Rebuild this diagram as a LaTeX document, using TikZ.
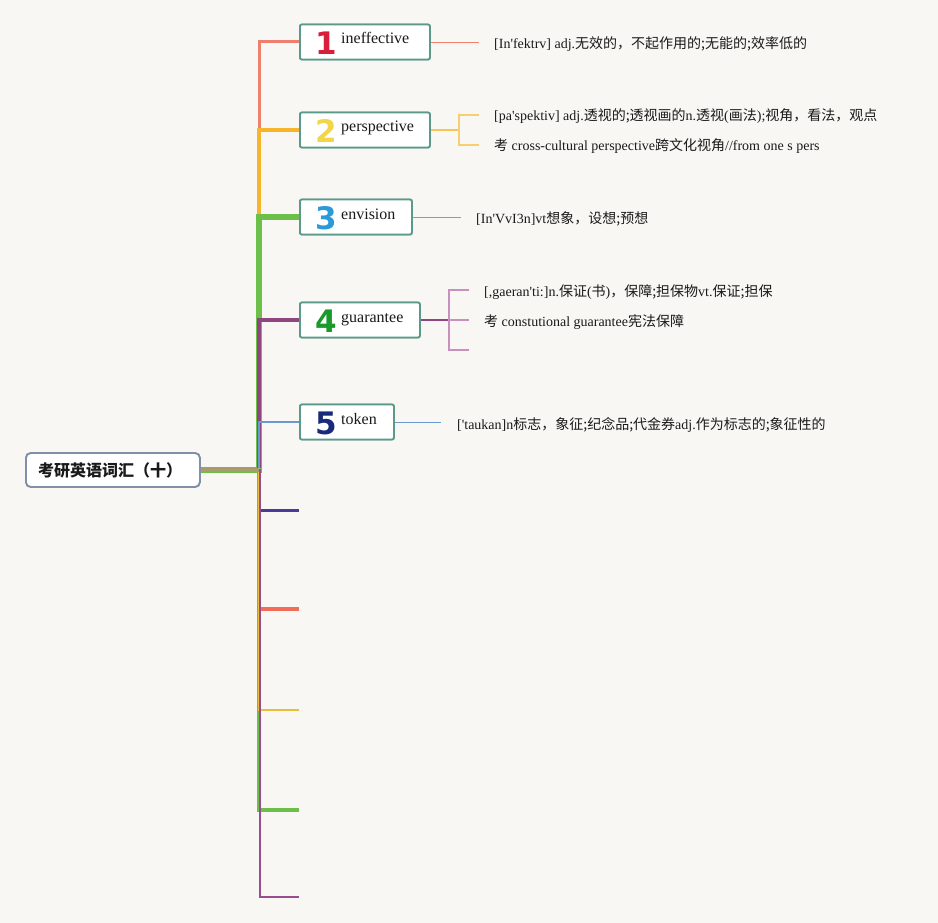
\documentclass[tikz,border=0pt]{standalone}
\usepackage{fontspec}
\setmainfont{Liberation Serif}[Ligatures=TeXOff]
\newfontfamily\cjk{Noto Sans CJK SC}
\newfontfamily\numfont{DejaVu Sans}
\newcommand{\zh}[1]{{\cjk #1}}
\definecolor{bgc}{HTML}{F8F7F4}
\definecolor{cA}{HTML}{F0806E}
\definecolor{cB}{HTML}{F7B52A}
\definecolor{cC}{HTML}{6CC04A}
\definecolor{cD}{HTML}{8E4580}
\definecolor{cE}{HTML}{6A9AD0}
\definecolor{cF}{HTML}{4B3A98}
\definecolor{cG}{HTML}{F26C5A}
\definecolor{cH}{HTML}{E8BE3A}
\definecolor{cI}{HTML}{6CC04A}
\definecolor{cJ}{HTML}{9A4C90}
\definecolor{cBl}{HTML}{F7CF70}
\definecolor{cDl}{HTML}{C890BE}
\definecolor{cRoot}{HTML}{A89C6E}
\definecolor{boxc}{HTML}{5B9A8B}
\definecolor{rootc}{HTML}{8090A8}
\definecolor{nA}{HTML}{D81E3A}
\definecolor{nB}{HTML}{F3D54A}
\definecolor{nC}{HTML}{2A9AD8}
\definecolor{nD}{HTML}{1A9A2A}
\definecolor{nE}{HTML}{1A2A7A}
\definecolor{txt}{HTML}{1A1A1A}
\tikzset{
  wordbox/.style={draw=boxc, line width=1.8pt, fill=white, rounded corners=2pt, anchor=west, inner sep=0pt, minimum height=35pt},
  rootbox/.style={draw=rootc, line width=1.8pt, fill=white, rounded corners=5pt, minimum width=174pt, minimum height=34pt, inner sep=0pt, anchor=west},
  roottext/.style={font=\cjk\bfseries\fontsize{16}{16}\selectfont, text=txt},
  numtxt/.style={font=\numfont\bfseries\fontsize{31}{31}\selectfont, inner sep=0pt},
  wordtxt/.style={font=\fontsize{16}{16}\selectfont, text=txt, anchor=base west, inner sep=0pt},
  leaftxt/.style={font=\fontsize{14}{14}\selectfont, text=txt, anchor=base west, inner sep=0pt},
}
\begin{document}
\begin{tikzpicture}[x=1pt,y=-1pt]
\fill[bgc] (0,0) rectangle (938,923);
\useasboundingbox (0,0) rectangle (938,923);
\coordinate (trunk) at (259,0);
\coordinate (trunkb) at (260,0);
% root
\node[rootbox] (root) at (25,470) {};
% boxes
\node[wordbox, minimum width=130pt] (b1) at (299,42) {};
\node[wordbox, minimum width=130pt] (b2) at (299,130) {};
\node[wordbox, minimum width=112pt] (b3) at (299,217) {};
\node[wordbox, minimum width=120pt] (b4) at (299,320) {};
\node[wordbox, minimum width=94pt] (b5) at (299,422) {};
\coordinate (e6) at (299,510);
\coordinate (e7) at (299,609);
\coordinate (e8) at (299,710);
\coordinate (e9) at (299,810);
\coordinate (e10) at (299,897);
% main connectors (far ones first)
\draw[cA, line width=3pt] (root.east) -- (root.east -| trunk) |- (b1.west);
\draw[cB, line width=4pt] (root.east) -- (root.east -| trunk) |- (b2.west);
\draw[cC, line width=6pt] (root.east) -- (root.east -| trunk) |- (b3.west);
\draw[cD, line width=4pt] (root.east) -- (root.east -| trunk) |- (b4.west);
\draw[cE, line width=2pt] (root.east) -- (root.east -| trunk) |- (b5.west);
\draw[cF, line width=3pt] (root.east) -- (root.east -| trunk) |- (e6);
\draw[cG, line width=4pt] (root.east) -- (root.east -| trunk) |- (e7);
\draw[cI, line width=4pt] (root.east) -- (root.east -| trunk) |- (e9);
\draw[cH, line width=2pt] ([yshift=1pt]root.east) -- ([yshift=1pt]root.east -| trunk) |- (e8);
\draw[cJ, line width=2pt] (root.east) -- (root.east -| trunkb) |- (e10);
\draw[cRoot, line width=4pt] (root.east) -- (root.east -| trunk);
% boxes on top
\node[rootbox] (rootf) at (25,470) {};
\node[roottext] (roottxt) at (110,470) {考研英语词汇（十）};
\node[wordbox, minimum width=130pt] (f1) at (299,42) {};
\node[wordbox, minimum width=130pt] (f2) at (299,130) {};
\node[wordbox, minimum width=112pt] (f3) at (299,217) {};
\node[wordbox, minimum width=120pt] (f4) at (299,320) {};
\node[wordbox, minimum width=94pt] (f5) at (299,422) {};
% numbers and words
\node[numtxt, text=nA] (n1) at (326,43) {1};
\node[numtxt, text=nB] (n2) at (326,131) {2};
\node[numtxt, text=nC] (n3) at (326,218) {3};
\node[numtxt, text=nD] (n4) at (326,321) {4};
\node[numtxt, text=nE] (n5) at (326,423) {5};
\node[wordtxt] (w1) at (341,44) {ineffective};
\node[wordtxt] (w2) at (341,132) {perspective};
\node[wordtxt] (w3) at (341,219) {envision};
\node[wordtxt] (w4) at (341,322) {guarantee};
\node[wordtxt] (w5) at (341,424) {token};
% leaves 1
\coordinate (l1) at (479,42);
\draw[cA, line width=0.9pt] (b1.east) -- (l1);
\node[leaftxt] (t1) at (494,49) {[In'fektrv] adj.\zh{无效的，不起作用的;无能的;效率低的}};
% leaves 2
\coordinate (k2) at (459,130);
\coordinate (l2a) at (479,115);
\coordinate (l2b) at (479,145);
\draw[cB!80, line width=2pt] (b2.east) -- (k2);
\draw[cBl, line width=1.4pt] (l2a) -| (k2) |- (l2b);
\node[leaftxt] (t2a) at (494,121) {[pa'spektiv] adj.\zh{透视的;透视画的}n.\zh{透视}(\zh{画法});\zh{视角，看法，观点}};
\node[leaftxt] (t2b) at (494,151) {\zh{考} cross-cultural perspective\zh{跨文化视角}//from one s pers};
% leaves 3
\coordinate (l3) at (461,217);
\draw[cC, line width=0.9pt] (b3.east) -- (l3);
\node[leaftxt] (t3) at (476,224) {[In'VvI3n]vt\zh{想象，设想;预想}};
% leaves 4
\coordinate (k4) at (449,320);
\coordinate (l4a) at (469,290);
\coordinate (l4b) at (469,320);
\coordinate (l4c) at (469,350);
\draw[cD, line width=2pt] (b4.east) -- (k4);
\draw[cDl, line width=1.4pt] (l4a) -| (k4) |- (l4c);
\draw[cDl, line width=1.4pt] (k4) -- (l4b);
\node[leaftxt] (t4a) at (484,296) {[,gaeran'ti:]n.\zh{保证}(\zh{书})\zh{，保障;担保物}vt.\zh{保证;担保}};
\node[leaftxt] (t4b) at (484,326) {\zh{考} constutional guarantee\zh{宪法保障}};
% leaves 5
\coordinate (l5) at (441,422);
\draw[cE, line width=0.9pt] (b5.east) -- (l5);
\node[leaftxt] (t5) at (457,429) {['taukan]n\zh{标志，象征;纪念品;代金券}adj.\zh{作为标志的;象征性的}};
\end{tikzpicture}
\end{document}
